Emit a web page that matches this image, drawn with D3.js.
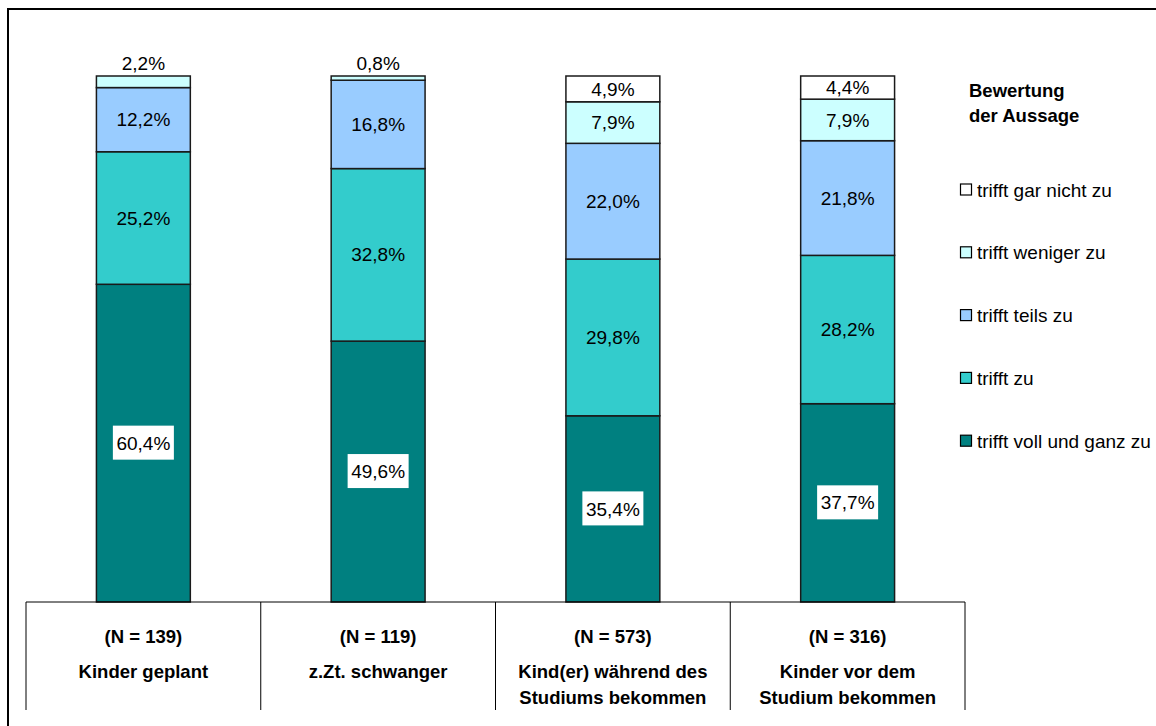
<!DOCTYPE html>
<html>
<head>
<meta charset="utf-8">
<script src="https://cdn.jsdelivr.net/npm/d3@7"></script>
<style>
  html, body { margin: 0; padding: 0; background: #fff; }
  svg { display: block; }
  text { font-family: "Liberation Sans", Arial, sans-serif; fill: #000; }
</style>
</head>
<body>
<svg id="chart" width="1156" height="726"></svg>
<script>
// ---- data ----
const categories = ["Kinder geplant", "z.Zt. schwanger", "Kind(er) während des Studiums bekommen", "Kinder vor dem Studium bekommen"];
const categoryLines = [["Kinder geplant"], ["z.Zt. schwanger"], ["Kind(er) während des", "Studiums bekommen"], ["Kinder vor dem", "Studium bekommen"]];
const sampleSizes = [139, 119, 573, 316];
const seriesNames = ["trifft voll und ganz zu", "trifft zu", "trifft teils zu", "trifft weniger zu", "trifft gar nicht zu"];
const trifftVollUndGanzZu = [60.4, 49.6, 35.4, 37.7];
const trifftZu = [25.2, 32.8, 29.8, 28.2];
const trifftTeilsZu = [12.2, 16.8, 22.0, 21.8];
const trifftWenigerZu = [2.2, 0.8, 7.9, 7.9];
const trifftGarNichtZu = [0, 0, 4.9, 4.4];
const seriesColors = ["#008080", "#33CCCC", "#99CCFF", "#CCFFFF", "#FFFFFF"];
const legendTitle = ["Bewertung", "der Aussage"];

const seriesValues = [trifftVollUndGanzZu, trifftZu, trifftTeilsZu, trifftWenigerZu, trifftGarNichtZu];

// ---- build table ----
const table = categories.map((c, i) => {
  const row = { category: c };
  seriesNames.forEach((s, j) => row[s] = seriesValues[j][i]);
  return row;
});
const stacked = d3.stack().keys(seriesNames)(table);

const svg = d3.select("#chart");
const de = d3.formatLocale({ decimal: ",", thousands: ".", grouping: [3], currency: ["", " €"] });
const fmt = v => de.format(".1f")(v) + "%";

// frame
svg.append("rect").attr("x", 8).attr("y", 9).attr("width", 1170).attr("height", 740)
  .attr("fill", "none").attr("stroke", "#000").attr("stroke-width", 2);

const x = d3.scaleBand().domain(categories).range([26, 965]).paddingInner(0.6).paddingOuter(0.3);
const y = d3.scaleLinear().domain([0, 100]).range([602, 76]);

// bars
const layers = svg.append("g").selectAll("g").data(stacked).join("g")
  .attr("fill", (d, i) => seriesColors[i]);
layers.selectAll("rect").data(d => d.filter(p => p[1] - p[0] > 0)).join("rect")
  .attr("x", d => x(d.data.category))
  .attr("width", x.bandwidth())
  .attr("y", d => y(d[1]))
  .attr("height", d => y(d[0]) - y(d[1]))
  .attr("stroke", "#1a1a1a")
  .attr("stroke-width", 1.5);

// labels
const labelG = svg.append("g");
stacked.forEach((layer, si) => {
  layer.forEach(p => {
    const v = p[1] - p[0];
    if (v <= 0) return;
    const cx = x(p.data.category) + x.bandwidth() / 2;
    let cy;
    const small = v < 3;
    if (small) cy = y(p[1]) - 13;
    else cy = (y(p[0]) + y(p[1])) / 2;
    if (si === 0) {
      labelG.append("rect").attr("x", cx - 30.5).attr("y", cy - 17.5).attr("width", 61).attr("height", 34).attr("fill", "#fff");
    }
    labelG.append("text").attr("x", cx).attr("y", cy).attr("dy", "0.35em")
      .attr("text-anchor", "middle").style("font-size", "19px").text(fmt(v));
  });
});

// category table
const tbl = svg.append("g").attr("stroke", "#000").attr("stroke-width", 1);
tbl.append("line").attr("x1", 26).attr("x2", 965).attr("y1", 602).attr("y2", 602);
const dividers = [26].concat(categories.map(c => x(c) + x.bandwidth() / 2 + x.step() / 2));
tbl.selectAll("line.div").data(dividers).join("line").attr("class", "div")
  .attr("x1", d => d).attr("x2", d => d).attr("y1", 602).attr("y2", 710);

const catG = svg.append("g");
categories.forEach((c, i) => {
  const cx = x(c) + x.bandwidth() / 2;
  catG.append("text").attr("x", cx).attr("y", 643).attr("text-anchor", "middle")
    .style("font-size", "18.5px").style("font-weight", "bold").text("(N = " + sampleSizes[i] + ")");
  categoryLines[i].forEach((ln, k) => {
    catG.append("text").attr("x", cx).attr("y", 678 + k * 25.5).attr("text-anchor", "middle")
      .style("font-size", "18.5px").style("font-weight", "bold").text(ln);
  });
});

// legend
const lg = svg.append("g");
legendTitle.forEach((t, k) => {
  lg.append("text").attr("x", 969).attr("y", 97 + k * 25).style("font-size", "18.5px").style("font-weight", "bold").text(t);
});
const legendOrder = seriesNames.slice().reverse();
legendOrder.forEach((s, k) => {
  const cy = 190 + k * 62.8;
  lg.append("rect").attr("x", 960.5).attr("y", cy - 6).attr("width", 11).attr("height", 11)
    .attr("fill", seriesColors[seriesNames.indexOf(s)]).attr("stroke", "#000").attr("stroke-width", 1.2);
  lg.append("text").attr("x", 977).attr("y", cy).attr("dy", "0.35em").style("font-size", "19px").text(s);
});
</script>
</body>
</html>
